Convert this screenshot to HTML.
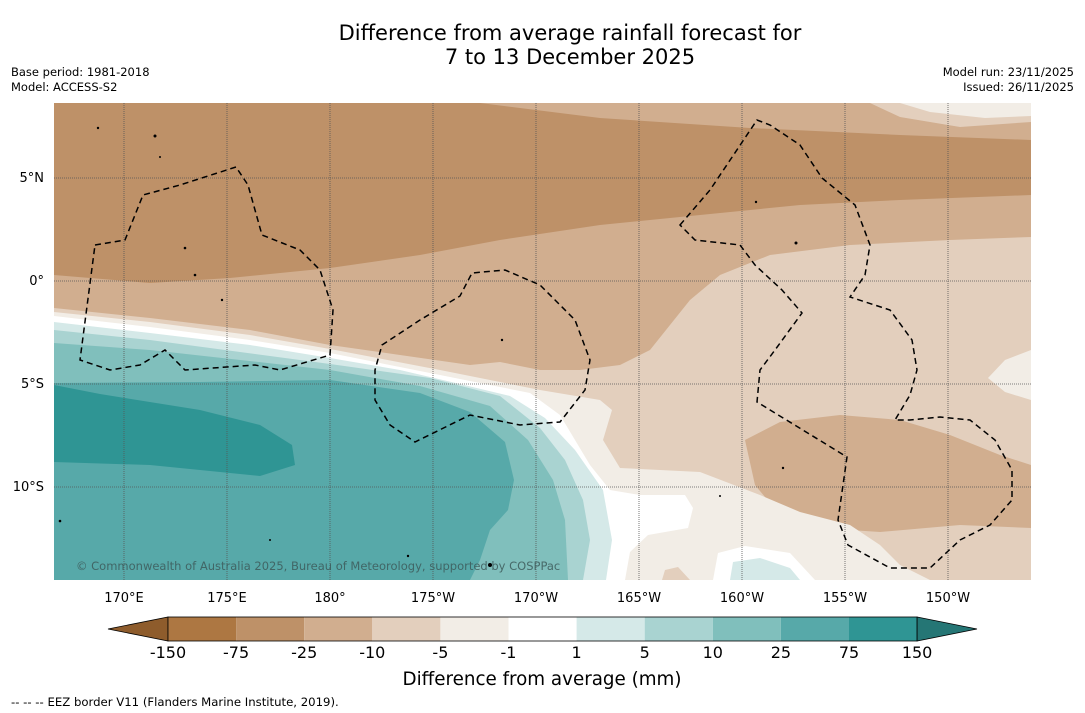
<!DOCTYPE html>
<html><head><meta charset="utf-8">
<style>
body{margin:0;background:#fff;font-family:"DejaVu Sans",sans-serif;}
#wrap{position:relative;width:1085px;height:713px;overflow:hidden;background:#fff;}
.t{position:absolute;color:#000;white-space:nowrap;}
</style></head>
<body>
<div id="wrap">
<div class="t" style="left:0;width:1140px;top:21px;text-align:center;font-size:21px;line-height:24px;">Difference from average rainfall forecast for<br>7 to 13 December 2025</div>
<div class="t" style="left:11px;top:65px;font-size:11.5px;line-height:15px;">Base period: 1981-2018<br>Model: ACCESS-S2</div>
<div class="t" style="right:11px;top:65px;font-size:11.5px;line-height:15px;text-align:right;">Model run: 23/11/2025<br>Issued: 26/11/2025</div>
<svg id="svg" width="1085" height="713" style="position:absolute;left:0;top:0">
<defs><clipPath id="mc"><rect x="54" y="103" width="977" height="477"/></clipPath></defs>
<g clip-path="url(#mc)">
<rect x="54" y="103" width="977" height="477" fill="#e3cfbd"/>
<path fill="#d1ae8f" d="M54,103 L1031,103 L1031,237 L950,240 L850,245 L770,255 L720,275 L690,300 L670,325 L650,350 L620,365 L580,370 L540,370 L500,362 L470,365 L400,355 L330,345 L250,330 L150,318 L54,308 Z"/>
<path fill="#e3cfbd" d="M870,103 L1031,103 L1031,122 L960,127 L900,117 Z"/>
<path fill="#f2ede6" d="M900,103 L1031,103 L1031,116 L985,118 L930,112 Z"/>
<path fill="#be9168" d="M54,103 L480,103 L600,118 L750,128 L900,135 L1031,140 L1031,195 L900,200 L800,205 L700,215 L600,225 L500,240 L420,255 L330,268 L230,278 L150,283 L54,275 Z"/>
<path fill="#d1ae8f" d="M745,440 L780,422 L840,415 L900,420 L950,435 L1000,455 L1031,465 L1031,528 L960,525 L880,532 L820,528 L780,515 L755,485 Z"/>
<path fill="#f2ede6" d="M1031,350 L1005,360 L988,378 L1005,392 L1031,400 Z"/>
<path fill="#f2ede6" d="M54,312 L150,322 L250,335 L330,349 L440,370 L540,390 L600,400 L612,410 L603,440 L620,468 L700,472 L760,495 L800,512 L850,525 L880,545 L900,565 L930,580 L54,580 Z"/>
<path fill="#e3cfbd" d="M662,580 L665,570 L678,567 L690,580 Z"/>
<path fill="#ffffff" d="M54,316 L150,327 L250,340 L330,353 L440,375 L530,393 L560,415 L590,465 L610,490 L640,495 L685,495 L693,508 L688,528 L648,535 L630,552 L625,580 L54,580 Z"/>
<path fill="#ffffff" d="M713,580 L718,553 L745,546 L790,553 L815,580 Z"/>
<path fill="#d5e9e8" d="M730,580 L733,562 L760,558 L790,568 L800,580 Z"/>
<path fill="#d5e9e8" d="M54,322 L150,333 L250,345 L330,358 L400,370 L460,384 L510,396 L545,418 L575,450 L603,490 L612,540 L606,580 L54,580 Z"/>
<path fill="#a9d3d1" d="M54,330 L150,340 L330,364 L430,378 L500,396 L540,428 L565,460 L583,500 L590,540 L583,580 L54,580 Z"/>
<path fill="#80bfbc" d="M54,343 L150,350 L330,370 L420,386 L490,406 L528,440 L553,480 L565,520 L568,580 L54,580 Z"/>
<path fill="#57a9a9" d="M54,383 L200,382 L330,380 L420,393 L470,412 L505,442 L514,480 L508,510 L490,530 L480,560 L470,580 L54,580 Z"/>
<path fill="#2f9594" d="M54,385 L100,394 L200,410 L260,425 L292,445 L295,465 L260,476 L150,465 L54,462 Z"/>
<g id="grid" stroke="#555" stroke-width="0.8" stroke-dasharray="1,1"></g>
<g fill="none" stroke="#000" stroke-width="1.5" stroke-dasharray="6,4">
<path d="M95,245 L125,240 L143,195 L180,185 L236,167 L248,185 L262,235 L300,250 L320,270 L333,310 L330,355 L280,370 L255,365 L185,370 L165,350 L140,365 L110,370 L80,360 Z"/>
<path d="M382,345 L420,320 L460,296 L472,273 L505,270 L540,285 L575,320 L590,360 L585,390 L560,422 L520,425 L470,415 L415,442 L390,425 L375,400 L375,370 Z"/>
<path d="M680,225 L710,190 L757,120 L770,125 L800,145 L822,178 L855,205 L870,245 L865,275 L850,297 L890,310 L912,340 L917,370 L910,395 L895,420 L910,420 L940,417 L970,420 L995,440 L1012,470 L1012,500 L990,525 L960,540 L930,568 L890,568 L848,545 L838,520 L847,457 L757,402 L760,370 L775,350 L802,313 L782,290 L755,265 L740,245 L695,240 Z"/>
</g>
<g fill="#000">
<circle cx="98" cy="128" r="1.2"/><circle cx="155" cy="136" r="1.5"/><circle cx="160" cy="157" r="1"/><circle cx="185" cy="248" r="1.3"/><circle cx="195" cy="275" r="1.3"/><circle cx="222" cy="300" r="1.2"/><circle cx="502" cy="340" r="1.2"/><circle cx="756" cy="202" r="1.2"/><circle cx="796" cy="243" r="1.5"/><circle cx="783" cy="468" r="1.2"/><circle cx="720" cy="496" r="1"/><circle cx="60" cy="521" r="1.3"/><circle cx="270" cy="540" r="1"/><circle cx="408" cy="556" r="1.2"/><circle cx="490" cy="565" r="2"/>
</g>
<text x="76" y="570" font-size="11.5" fill="#3d5a5a" fill-opacity="0.85" font-family="DejaVu Sans, sans-serif">© Commonwealth of Australia 2025, Bureau of Meteorology, supported by COSPPac</text>
</g>
<g id="axes" font-family="DejaVu Sans, sans-serif" font-size="13" fill="#000"></g>
<g id="cbar"></g>
<text x="542" y="685" text-anchor="middle" font-size="18.3" font-family="DejaVu Sans, sans-serif">Difference from average (mm)</text>
<text x="11" y="706" font-size="11.7" font-family="DejaVu Sans, sans-serif">--  --  -- EEZ border V11 (Flanders Marine Institute, 2019).</text>
</svg>
</div>
<script>
const lonLabels=["170°E","175°E","180°","175°W","170°W","165°W","160°W","155°W","150°W"];
const lonValues=[170,175,180,185,190,195,200,205,210];
const latLabels=["5°N","0°","5°S","10°S"];
const latValues=[5,0,-5,-10];
const levelLabels=["-150","-75","-25","-10","-5","-1","1","5","10","25","75","150"];
const binColors=["#ad7742","#be9168","#d1ae8f","#e3cfbd","#f2ede6","#ffffff","#d5e9e8","#a9d3d1","#80bfbc","#57a9a9","#2f9594"];
const ns="http://www.w3.org/2000/svg";
const xLon=l=>124+(l-170)*20.6;
const yLat=l=>281-l*20.6;
const grid=document.getElementById('grid'),axes=document.getElementById('axes');
lonValues.forEach((v,i)=>{
 const ln=document.createElementNS(ns,'line');
 
 
 ln.setAttribute('x1',xLon(v));ln.setAttribute('x2',xLon(v));ln.setAttribute('y1',103);ln.setAttribute('y2',580);
 grid.appendChild(ln);
 const t=document.createElementNS(ns,'text');
 
 
 t.setAttribute('x',xLon(v));t.setAttribute('y',602);t.setAttribute('text-anchor','middle');
 t.textContent=lonLabels[i];axes.appendChild(t);
});
latValues.forEach((v,i)=>{
 const ln=document.createElementNS(ns,'line');
 
 
 ln.setAttribute('x1',54);ln.setAttribute('x2',1031);ln.setAttribute('y1',yLat(v));ln.setAttribute('y2',yLat(v));
 grid.appendChild(ln);
 const t=document.createElementNS(ns,'text');
 
 
 t.setAttribute('x',44);t.setAttribute('y',yLat(v)+4);t.setAttribute('text-anchor','end');
 t.textContent=latLabels[i];axes.appendChild(t);
});
const cb=document.getElementById('cbar');
const x0=168,w=68.1,y0=617,h=24;
const lt=document.createElementNS(ns,'polygon');


lt.setAttribute('points',`108,629 ${x0},${y0} ${x0},${y0+h}`);lt.setAttribute('fill','#8e5c2c');lt.setAttribute('stroke','#000');lt.setAttribute('stroke-width','0.8');cb.appendChild(lt);
binColors.forEach((c,i)=>{
 const r=document.createElementNS(ns,'rect');
 
 
 r.setAttribute('x',x0+i*w);r.setAttribute('y',y0);r.setAttribute('width',w);r.setAttribute('height',h);r.setAttribute('fill',c);
 cb.appendChild(r);
});
const xe=x0+binColors.length*w;
const rt=document.createElementNS(ns,'polygon');


rt.setAttribute('points',`${xe},${y0} 977,629 ${xe},${y0+h}`);rt.setAttribute('fill','#257675');rt.setAttribute('stroke','#000');rt.setAttribute('stroke-width','0.8');cb.appendChild(rt);
const ob=document.createElementNS(ns,'rect');


ob.setAttribute('x',x0);ob.setAttribute('y',y0);ob.setAttribute('width',xe-x0);ob.setAttribute('height',h);ob.setAttribute('fill','none');ob.setAttribute('stroke','#000');ob.setAttribute('stroke-width','0.8');cb.appendChild(ob);
levelLabels.forEach((s,i)=>{
 const t=document.createElementNS(ns,'text');
 
 
 t.setAttribute('x',x0+i*w);t.setAttribute('y',658);t.setAttribute('text-anchor','middle');t.setAttribute('font-size','16');t.setAttribute('font-family','DejaVu Sans, sans-serif');
 t.textContent=s;cb.appendChild(t);
});
</script>
</body></html>
